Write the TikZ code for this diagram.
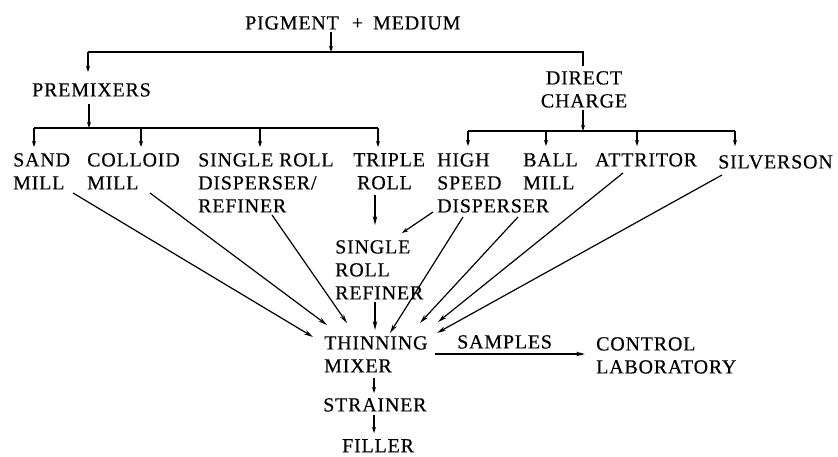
\documentclass[tikz,border=0pt]{standalone}
\usepackage{fontspec}
\setmainfont{Liberation Serif}[LetterSpace=4,FakeBold=0.4]
\usetikzlibrary{arrows.meta,calc}
\begin{document}
\begin{tikzpicture}[x=1pt,y=-1pt,
  lbl/.style={anchor=north west,inner sep=0pt,align=left,
    font=\fontsize{20}{23}\selectfont},
  ln/.style={line width=1.2pt},
  sarr/.style={ln,-{Stealth[length=6pt,width=4pt]}},
  larr/.style={ln,-{Stealth[length=9pt,width=4.5pt]}}]
\useasboundingbox (0,0) rectangle (838,457);

% labels
\node[lbl] (pig) at (245,16) {PIGMENT\hspace*{13pt}+\hspace*{10pt}MEDIUM};
\node[lbl] (prem) at (32,83) {PREMIXERS};
\node[lbl,anchor=north,align=center] (dc) at (584,71) {DIRECT\\CHARGE};
\node[lbl] (sand) at (13,153) {SAND\\MILL};
\node[lbl] (colloid) at (87,153) {COLLOID\\MILL};
\node[lbl] (srd) at (198,153) {SINGLE ROLL\\DISPERSER/\\REFINER};
\node[lbl] (triple) at (353,153) {TRIPLE\\\hspace*{4pt}ROLL};
\node[lbl] (hsd) at (437,153) {HIGH\\SPEED\\DISPERSER};
\node[lbl] (ball) at (523,153) {BALL\\MILL};
\node[lbl] (attr) at (595,153) {ATTRITOR};
\node[lbl] (silv) at (718,155) {SILVERSON};
\node[lbl] (srr) at (335,240) {SINGLE\\ROLL\\REFINER};
\node[lbl] (thin) at (324,336) {THINNING\\MIXER};
\node[lbl] (strainer) at (323,398) {STRAINER};
\node[lbl] (filler) at (342,439) {FILLER};
\node[lbl] (samp) at (457,335) {SAMPLES};
\node[lbl] (ctrl) at (596,337) {CONTROL\\LABORATORY};

% bus junctions
\coordinate (b0) at (331,52);
\coordinate (b0l) at (88,52);
\coordinate (b0r) at (583,52);
\coordinate (b1) at (89,128);
\coordinate (b1l) at (34,128);
\coordinate (b1r) at (378,128);
\coordinate (b2) at (583,131);
\coordinate (b2l) at (468,131);
\coordinate (b2r) at (735,131);

% top split
\draw[sarr] ($(pig.north west)+(86,16)$) -- (b0);
\draw[ln] (b0l) -- (b0r) -- ($(dc.north)+(-1,-5)$);
\draw[sarr] (b0l) -- ($(prem.north west)+(56,-11)$);

% premixer branch
\draw[sarr] ($(prem.north west)+(57,21)$) -- (b1);
\draw[ln] (b1l) -- (b1r);
\draw[sarr] (b1l) -- ($(sand.north west)+(21,-6)$);
\draw[sarr] (141,128) -- ($(colloid.north west)+(54,-6)$);
\draw[sarr] (260,128) -- ($(srd.north west)+(62,-6)$);
\draw[sarr] (b1r) -- ($(triple.north west)+(25,-6)$);

% direct charge branch
\draw[sarr] ($(dc.south)+(-1,2)$) -- (b2);
\draw[ln] (b2l) -- (b2r);
\draw[sarr] (b2l) -- ($(hsd.north west)+(31,-7)$);
\draw[sarr] (546,131) -- ($(ball.north west)+(23,-7)$);
\draw[sarr] (637,131) -- ($(attr.north west)+(42,-7)$);
\draw[sarr] (b2r) -- ($(silv.north west)+(17,-9)$);

% refiner path
\draw[larr] ($(triple.north west)+(22,42)$) -- ($(srr.north west)+(40,-15)$);
\draw[sarr] ($(hsd.north west)+(-4,59)$) -- ($(srr.north west)+(67,-7)$);
\draw[larr] ($(srr.north west)+(40,62)$) -- ($(thin.north west)+(51,-6)$);

% feeds into the thinning mixer
\draw[larr] ($(sand.north west)+(60,40)$) -- ($(thin.north west)+(-11,1)$);
\draw[larr] ($(colloid.north west)+(63,40)$) -- ($(thin.north west)+(3,-11)$);
\draw[larr] ($(srd.north west)+(74,62)$) -- ($(thin.north west)+(23,-13)$);
\draw[larr] ($(hsd.north west)+(26,64)$) -- ($(thin.north west)+(66,-3)$);
\draw[larr] ($(ball.north west)+(-5,64)$) -- ($(thin.north west)+(96,-13)$);
\draw[larr] ($(attr.north west)+(28,20)$) -- ($(thin.north west)+(114,-14)$);
\draw[larr] ($(silv.north west)+(4,20)$) -- ($(thin.north west)+(113,-3)$);

% outputs
\draw[larr] ($(thin.north west)+(111,18)$) -- ($(ctrl.north west)+(-11,17)$);
\draw[sarr] ($(thin.north west)+(50,42)$) -- ($(strainer.north west)+(51,-5)$);
\draw[sarr] ($(strainer.north west)+(51,17)$) -- ($(filler.north west)+(32,-6)$);
\end{tikzpicture}
\end{document}
